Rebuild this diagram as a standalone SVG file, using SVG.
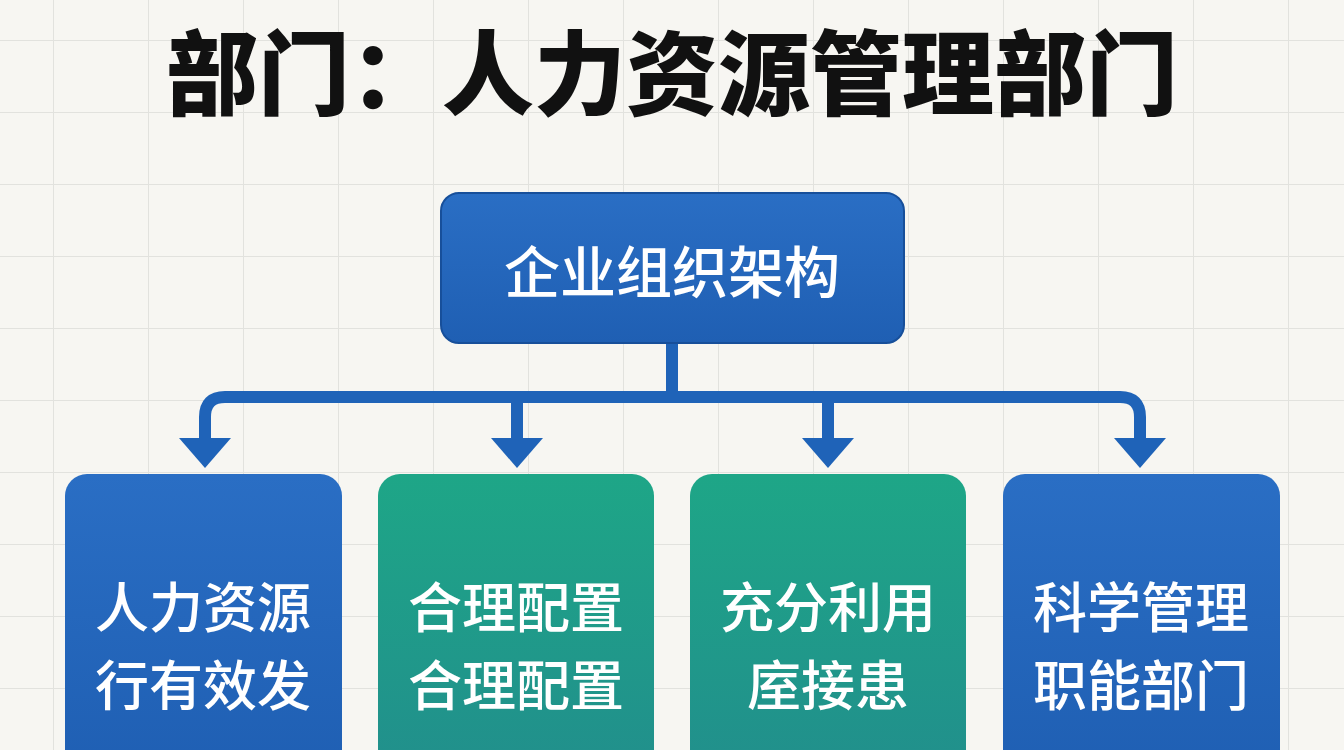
<svg xmlns="http://www.w3.org/2000/svg" width="1344" height="750" viewBox="0 0 1344 750">
<defs>
<pattern id="grid" x="53" y="40" width="95" height="72" patternUnits="userSpaceOnUse">
<path d="M0 0H95M0 0V72" fill="none" stroke="#e2e2de" stroke-width="2"/>
</pattern>
<marker id="arr" viewBox="0 0 10 10" refX="5" refY="8" markerWidth="4.2" markerHeight="4.2" orient="auto-start-reverse" markerUnits="strokeWidth"><path d="M0 0L10 0L5 9Z" fill="#1f63b8" transform="rotate(-90 5 5)"/></marker>
<linearGradient id="gb" x1="0" y1="0" x2="0" y2="1"><stop offset="0" stop-color="#2a6ec4"/><stop offset="1" stop-color="#1f5fb3"/></linearGradient>
<linearGradient id="gg" x1="0" y1="0" x2="0" y2="1"><stop offset="0" stop-color="#1ea687"/><stop offset="1" stop-color="#218f8c"/></linearGradient>
</defs>
<style>
.t{font-family:"Noto Sans CJK SC",sans-serif;fill:#fff;text-anchor:middle;font-weight:500}
.c{fill:none;stroke:#1f63b8;stroke-width:12;stroke-linejoin:round}
</style>
<rect width="1344" height="750" fill="#f7f6f2"/>
<rect width="1344" height="750" fill="url(#grid)"/>
<text x="672" y="108" font-family="Noto Sans CJK SC,sans-serif" font-weight="900" font-size="92" text-anchor="middle" fill="#111">部门：人力资源管理部门</text>
<g id="connectors">
<path class="c" d="M672 343V397"/>
<path class="c" d="M205 440V417Q205 397 225 397H1120Q1140 397 1140 417V440"/>
<path class="c" d="M517 397V440M828 397V440"/>
<g fill="#1f63b8">
<path d="M179 438H231L205 468Z"/><path d="M491 438H543L517 468Z"/><path d="M802 438H854L828 468Z"/><path d="M1114 438H1166L1140 468Z"/>
</g>
</g>
<g id="top"><rect x="441" y="193" width="463" height="150" rx="18" fill="url(#gb)" stroke="#174f9a" stroke-width="2"/><text class="t" x="672" y="293" font-size="56">企业组织架构</text></g>
<g id="n1"><rect x="65" y="474" width="277" height="300" rx="22" fill="url(#gb)"/><text class="t" x="203" y="628" font-size="54">人力资源</text><text class="t" x="203" y="706" font-size="54">行有效发</text></g>
<g id="n2"><rect x="378" y="474" width="276" height="300" rx="22" fill="url(#gg)"/><text class="t" x="516" y="628" font-size="54">合理配置</text><text class="t" x="516" y="706" font-size="54">合理配置</text></g>
<g id="n3"><rect x="690" y="474" width="276" height="300" rx="22" fill="url(#gg)"/><text class="t" x="828" y="628" font-size="54">充分利用</text><text class="t" x="828" y="706" font-size="54">庢接患</text></g>
<g id="n4"><rect x="1003" y="474" width="277" height="300" rx="22" fill="url(#gb)"/><text class="t" x="1141" y="628" font-size="54">科学管理</text><text class="t" x="1141" y="706" font-size="54">职能部门</text></g>
</svg>
